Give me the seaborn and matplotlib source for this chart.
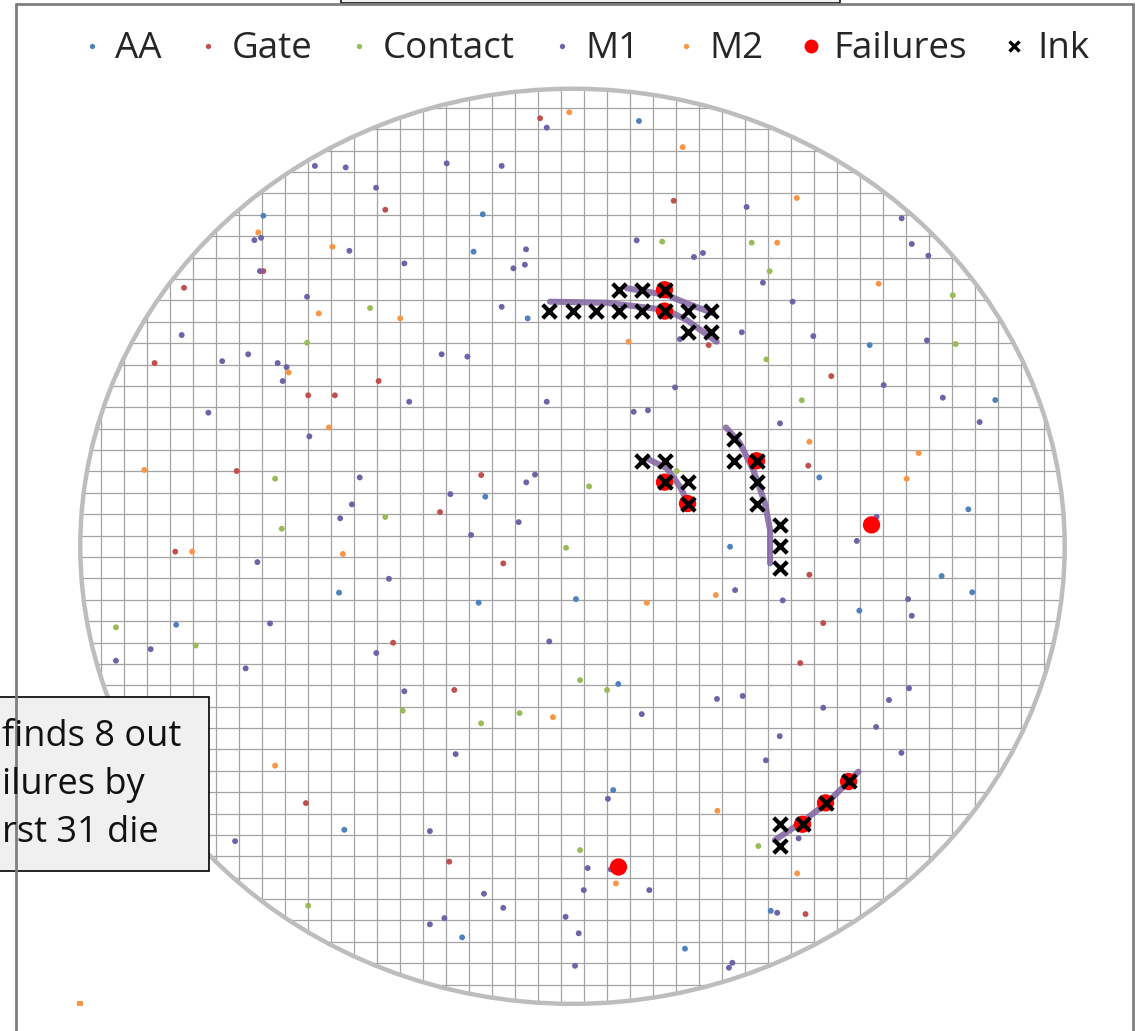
import numpy as np
import pandas as pd
import matplotlib
matplotlib.use("Agg")
import matplotlib.pyplot as plt
import seaborn as sns
from matplotlib.patches import Circle, Rectangle
from matplotlib.lines import Line2D

# ---------------- data (die units, wafer centre = 0,0) ----------------
layers = ["AA", "Gate", "Contact", "M1", "M2"]
layer_colors = ["#4F81BD", "#C0504D", "#9BBB59", "#6E62A8", "#F79646"]

aa_x = [-13.44, -3.90, -4.30, -1.95, 2.89, 12.92, 18.38, -3.79, -10.15, -4.08, 0.15, -17.23,
        1.99, 1.77, -9.92, -4.80, 4.89, 8.62, 16.05, 17.38, 12.47, 17.21, 10.73, 6.85]
aa_y = [15.46, 15.53, 13.78, 10.66, 19.89, 9.41, 6.84, 2.32, -2.17, -2.64, -2.47, -3.67,
        -6.44, -11.40, -13.26, -18.29, -18.82, -17.05, -1.39, -2.15, -3.01, 1.73, 3.22, -0.02]

gate_x = [-1.41, -8.14, -13.44, -16.89, -18.17, -11.49, -10.33, -8.43, 4.40, 5.92, 11.25, -14.60,
          -3.97, -5.76, -17.27, -3.01, -7.80, -5.14, -11.59, 10.30, 10.90, 9.90, -5.36, 10.25, 10.13]
gate_y = [20.02, 15.74, 12.87, 12.09, 8.57, 7.06, 7.06, 7.73, 16.16, 9.41, 7.96, 3.52,
          3.33, 1.60, -0.25, -0.80, -4.51, -6.72, -12.01, -1.33, -3.59, -5.46, -14.75, 3.77, -17.20]

contact_x = [-8.80, -11.54, 3.90, 7.79, 8.57, 16.53, 16.66, 8.43, 9.97, -12.93, -8.14, -12.64, 0.72,
             -0.28, -19.85, -16.38, 0.33, 1.50, -7.38, -3.97, -2.30, 0.33, 8.08, 4.53, -11.49]
contact_y = [11.14, 9.52, 14.25, 14.20, 12.87, 11.74, 9.46, 8.74, 6.83, 3.16, 1.37, 0.82, 2.80,
             -0.07, -3.79, -4.64, -6.26, -6.72, -7.69, -8.28, -7.80, -14.21, -14.02, 3.52, -16.81]

m1_x = [-1.12, -11.20, -9.86, -5.47, -3.08, -8.54, -13.83, -13.54, -9.70, -2.02, -7.31, -2.57, -2.07,
        -13.59, -11.54, -3.08, -16.99, -15.23, -14.10, -12.82, -12.43, -12.60, -5.69, -4.57, -7.10,
        -1.12, -15.83,
        7.57, 14.31, 14.75, 15.47, 2.79, 5.28, 5.67, 8.28, 9.57, 7.36, 10.47, 15.41, 4.67, 13.53,
        16.10, 4.46, 2.66, 3.28,
        -11.44, -9.25, -2.01, -1.63, -5.31, -9.59, -10.10, -2.34, -4.41, -13.70, -7.98, -13.15,
        -18.34, -19.85, -8.53, -1.01, -14.21, -7.31, -5.08, 1.54, -6.20, -14.67,
        7.07, 9.14, 14.59, 14.75, 6.28, 7.40, 10.90, 13.76, 14.63, 3.01, 13.20, 9.01, 14.30, 8.41, 9.83,
        0.66, 1.66, -3.85, 0.49, 3.34, -3.01, -5.57, -6.20, -0.30, 0.27, 0.11, 6.95, 6.80, 8.90,
        17.70, 9.02, 13.22, 12.36]
m1_y = [19.58, 17.79, 17.72, 17.91, 17.79, 16.77, 14.32, 14.43, 13.82, 13.89, 13.23, 13.00, 13.17,
        12.87, 11.67, 11.20, 9.88, 8.66, 8.98, 8.57, 8.38, 7.73, 8.98, 8.87, 6.76,
        6.76, 6.25,
        15.87, 15.34, 14.14, 13.59, 14.31, 13.53, 13.72, 12.33, 11.44, 10.01, 9.83, 9.63, 9.69, 7.54,
        6.95, 7.43, 6.29, 6.36,
        5.14, 3.22, 2.99, 3.35, 2.44, 1.96, 1.31, 1.13, 0.53, -0.74, -1.52, -3.61,
        -4.81, -5.35, -4.99, -4.45, -5.71, -6.78, -9.72, -11.81, -13.32, -13.79,
        -2.05, -2.53, -2.47, -3.25, -7.14, -7.00, -7.55, -7.19, -6.64, -7.85, -8.45, -8.88, -9.66, -10.01, -13.66,
        -15.05, -15.11, -16.25, -16.08, -16.08, -16.91, -17.39, -17.68, -17.33, -18.10, -19.62, -19.48, -19.71, -17.14,
        5.81, 5.75, 1.38, 0.25]

m2_x = [-0.14, -13.66, -10.44, -11.03, -7.49, -12.34, 4.79, 9.75, 8.90, 13.31, 2.44, -10.59, -18.62,
        -16.54, -9.98, -0.85, -12.93, 3.23, 6.23, 6.30, 1.89, 9.77, 15.05, 14.53, 10.30]
m2_y = [20.30, 14.68, 14.01, 10.89, 10.66, 8.13, 18.67, 16.29, 14.20, 12.28, 9.57, 5.56, 3.57,
        -0.25, -0.36, -7.99, -10.26, -2.64, -2.28, -12.37, -15.77, -15.30, 4.36, 3.16, 4.89]

stray_x = [-21.41]
stray_y = [-21.38]

fail_x = [4, 4, 4, 5, 8, 13, 10, 11, 12, 2]
fail_y = [12, 11, 3, 2, 4, 1, -13, -12, -11, -15]

ink_x = [2, 3, 4, -1, 0, 1, 2, 3, 4, 5, 6, 5, 6,
         3, 4, 4, 5, 5, 7, 7, 8, 8, 8, 9, 9, 9,
         9, 9, 10, 11, 12]
ink_y = [12, 12, 12, 11, 11, 11, 11, 11, 11, 11, 11, 10, 10,
         4, 4, 3, 3, 2, 5, 4, 4, 3, 2, 1, 0, -1,
         -13, -14, -13, -12, -11]

curve_a_x = [2.36, 3.23, 4.10, 4.97, 6.12]
curve_a_y = [12.07, 11.91, 11.75, 11.36, 10.90]
curve_b_x = [-0.98, 1.49, 2.93, 4.10, 4.97, 6.27]
curve_b_y = [11.44, 11.39, 11.20, 11.05, 10.58, 9.57]
curve_c_x = [3.23, 4.10, 4.67, 4.97]
curve_c_y = [4.11, 3.65, 2.79, 2.16]
curve_d_x = [6.67, 7.28, 7.86, 8.37, 8.59, 8.59]
curve_d_y = [5.56, 4.82, 3.57, 2.01, 0.76, -0.80]
curve_e_x = [8.80, 9.89, 11.05, 11.92, 12.43]
curve_e_y = [-13.74, -12.96, -12.02, -11.09, -10.54]

legend_labels = ["AA", "Gate", "Contact", "M1", "M2", "Failures", "Ink"]
note_text = "finds 8 out\nilures by\nrst 31 die"

WAFER_R = 21.4

# ---------------- plot ----------------
sns.set_theme(style="white")
plt.rcParams['font.family'] = ['Open Sans', 'DejaVu Sans']

fig = plt.figure(figsize=(11.45, 10.31), dpi=100)
fig.patch.set_facecolor("white")
ax = fig.add_axes([0, 0, 1, 1])
ax.set_xlim(-24.89, 24.89)
ax.set_ylim(-22.67, 25.55)
ax.axis("off")

# die grid (one cell per die), clipped to the wafer
clip = Circle((0, 0), WAFER_R, transform=ax.transData)
edges = np.arange(-21.5, 22.0, 1.0)
vl = ax.vlines(edges, -WAFER_R, WAFER_R, colors="#a3a3a3", lw=0.9, zorder=1)
hl = ax.hlines(edges, -WAFER_R, WAFER_R, colors="#a3a3a3", lw=0.9, zorder=1)
vl.set_clip_path(clip)
hl.set_clip_path(clip)
ax.add_patch(Circle((0, 0), WAFER_R, fill=False, ec="#bdbdbd", lw=3.2, zorder=2))

defects = pd.concat([
    pd.DataFrame({"x": aa_x, "y": aa_y, "layer": "AA"}),
    pd.DataFrame({"x": gate_x, "y": gate_y, "layer": "Gate"}),
    pd.DataFrame({"x": contact_x, "y": contact_y, "layer": "Contact"}),
    pd.DataFrame({"x": m1_x, "y": m1_y, "layer": "M1"}),
    pd.DataFrame({"x": m2_x, "y": m2_y, "layer": "M2"}),
], ignore_index=True)
palette = dict(zip(layers, layer_colors))
sns.scatterplot(data=defects, x="x", y="y", hue="layer", palette=palette, s=18,
                edgecolor="none", legend=False, ax=ax, zorder=3)
sns.scatterplot(x=stray_x, y=stray_y, color="#F79646", marker="s", s=16,
                edgecolor="none", legend=False, ax=ax, zorder=3)

# signature curves
for cx, cy in [(curve_a_x, curve_a_y), (curve_b_x, curve_b_y), (curve_c_x, curve_c_y),
               (curve_d_x, curve_d_y), (curve_e_x, curve_e_y)]:
    sns.lineplot(x=cx, y=cy, sort=False, estimator=None, color="#8064A2", lw=4.4,
                 alpha=0.85, solid_capstyle="round", solid_joinstyle="round", ax=ax, zorder=4)

sns.scatterplot(x=fail_x, y=fail_y, color="#FF0000", s=155, edgecolor="none",
                legend=False, ax=ax, zorder=5)
sns.scatterplot(x=ink_x, y=ink_y, color="black", marker="x", s=95, linewidth=3.0,
                legend=False, ax=ax, zorder=6)

# legend
handles = [Line2D([], [], ls="", marker="o", markersize=3.8, color=c, markeredgewidth=0)
           for c in layer_colors]
handles.append(Line2D([], [], ls="", marker="o", markersize=10, color="#FF0000", markeredgewidth=0))
handles.append(Line2D([], [], ls="", marker="x", markersize=7.5, color="black", markeredgewidth=2.4))
ax.legend(handles, legend_labels, ncol=7, loc="center", bbox_to_anchor=(0.511, 0.952),
          bbox_transform=fig.transFigure, frameon=False, fontsize=26.5,
          handlelength=0.6, handletextpad=0.33, columnspacing=0.98, borderaxespad=0,
          borderpad=0)

# slide decorations (pixel space overlay)
deco = fig.add_axes([0, 0, 1, 1], zorder=10)
deco.set_xlim(0, 1145)
deco.set_ylim(1031, 0)
deco.axis("off")
deco.patch.set_alpha(0)
deco.plot([16, 16], [4, 1040], color="#7f7f7f", lw=2.0)
deco.plot([16, 1133], [4, 4], color="#7f7f7f", lw=2.0)
deco.plot([1133, 1133], [4, 1040], color="#7f7f7f", lw=2.0)
deco.add_patch(Rectangle((341, -8), 499, 11, fc="#f2f2f2", ec="black", lw=1.1))
deco.add_patch(Rectangle((-20, 697), 229, 174, fc="#f0f0f0", ec="black", lw=1.2))
deco.text(2, 785, note_text, ha="left", va="center", fontsize=26, color="#111111",
          linespacing=1.45)

fig.savefig("out.png", dpi=100)
